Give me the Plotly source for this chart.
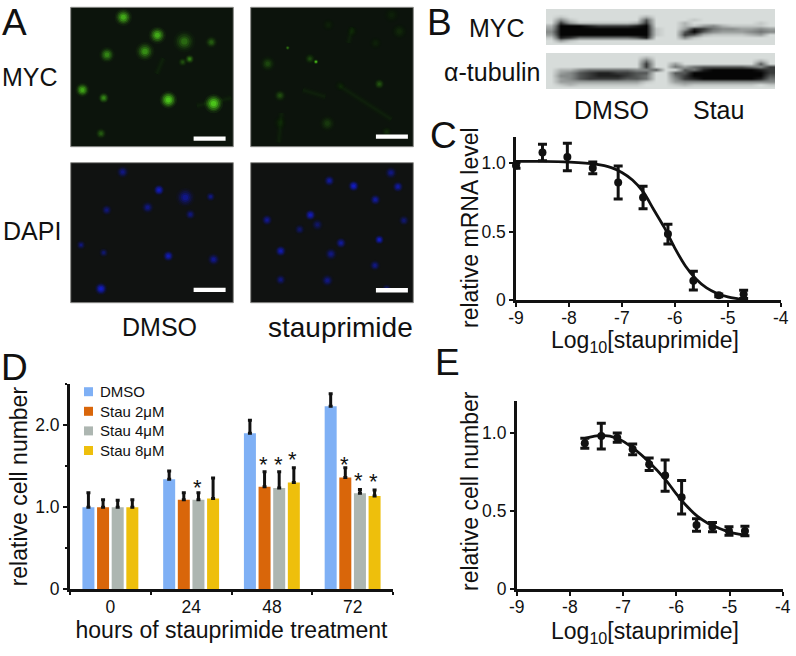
import plotly.graph_objects as go

W, H = 796, 656
FONT = "Liberation Sans"

# panel A: cell positions inside each 163x140 image, size and brightness
myc_dmso_x = [52.7, 86.7, 113.7, 140.7, 36.3, 74.3, 119, 112, 11.7, 33, 97.7, 143, 30.3]
myc_dmso_y = [10, 28, 34.3, 35, 47.7, 44.3, 52, 55, 83, 91, 93, 96.7, 126.7]
myc_dmso_s = [11, 11, 14, 8, 10, 12, 6, 6, 9, 7, 11, 12, 7]
myc_dmso_b = [0.75, 0.75, 0.35, 0.28, 0.5, 0.55, 0.45, 0.22, 0.7, 0.5, 1.0, 1.0, 0.28]
myc_dmso_fibre_x = [92.7, 86, None, 126, 161]
myc_dmso_fibre_y = [51, 67, None, 99, 91]

myc_stau_x = [17, 59.3, 65.3, 37, 29.3, 128.7, 76.7, 77.7, 101.7, 125, 148.7, 141, 89.3, 29.3, 136]
myc_stau_y = [56.7, 51.7, 54.7, 40.7, 88.7, 77, 116.7, 17.7, 24.3, 36, 24.3, 7.7, 78.7, 116, 125]
myc_stau_s = [10, 7, 3, 3, 8, 7, 11, 9, 8, 9, 11, 11, 8, 10, 7]
myc_stau_b = [0.2, 0.2, 1.0, 0.45, 0.22, 0.25, 0.14, 0.05, 0.05, 0.05, 0.08, 0.05, 0.05, 0.05, 0.09]
myc_stau_fibre_x = [101.7, 97.7, None, 89, 141, None, 31, 28, None, 75, 52]
myc_stau_fibre_y = [20, 36, None, 79, 112.7, None, 106, 136, None, 90, 83]

dapi_dmso_x = [52, 88.3, 114.7, 140, 36, 77, 119.7, 10.3, 33, 97.7, 143, 30.3]
dapi_dmso_y = [9.3, 27.3, 34.7, 34, 47.3, 44.7, 51.7, 82.3, 90, 93.3, 96.7, 126]
dapi_dmso_s = [8, 7, 12, 6, 7, 8, 7, 6, 6, 7, 8, 8]
dapi_dmso_b = [0.5, 0.95, 0.55, 0.5, 0.45, 0.5, 0.45, 0.45, 0.4, 0.85, 0.55, 1.0]

dapi_stau_x = [78.7, 103, 140.3, 147.3, 124.7, 153.3, 16.3, 59.7, 49, 66.7, 90.3, 128.7, 30, 80.3, 124.3, 30, 76.7, 136]
dapi_stau_y = [18, 23.3, 10, 24, 37, 57.7, 57.3, 52.3, 66.7, 62, 80.3, 77, 88.3, 91.3, 102.7, 117, 117.7, 126]
dapi_stau_s = [7, 7, 8, 7, 7, 7, 7, 7, 7, 8, 7, 6, 7, 8, 7, 7, 8, 6]
dapi_stau_b = [0.65, 1.0, 0.5, 0.7, 0.65, 0.4, 0.6, 0.9, 0.35, 0.35, 0.65, 1.0, 0.8, 0.5, 0.5, 0.45, 0.5, 0.4]

# panel B: blot darkness on a coarse grid, 0 = membrane, 9 = black
blot_myc = [
    "000000000000000000000000",
    "000000000000000000000000",
    "010000000020000000000000",
    "041000000060000100000000",
    "073111111270002000000010",
    "299987777890002134211110",
    "399999999991003875443343",
    "499999999991006964333454",
    "399999999991007621111230",
    "187555555680004100000000",
    "031000000000000000000000",
    "000000000000000000000000",
]
blot_tubulin = [
    "000000000000000000000000",
    "000000000020000000000000",
    "000000000050000000000020",
    "000000000070030000000060",
    "000000000070053566666547",
    "022455555446006589999987",
    "034678877660066999999997",
    "044678887650057999999996",
    "034677776650047899999985",
    "033333333310034444444444",
    "012111111100012111111101",
    "000000000000000000000000",
]

# panel C
mrna_x = [-9, -8.5, -8.03, -7.55, -7.07, -6.6, -6.13, -5.65, -5.17, -4.7]
mrna_y = [0.98, 1.075, 1.043, 0.963, 0.857, 0.748, 0.482, 0.143, 0.036, 0.044]
mrna_err = [0.02, 0.06, 0.1, 0.043, 0.12, 0.082, 0.072, 0.068, 0.01, 0.03]
mrna_fit_x = [-9, -8.5, -8, -7.5, -7.2, -7, -6.8, -6.6, -6.4, -6.2, -6, -5.8, -5.6, -5.4, -5.2, -5, -4.8, -4.7]
mrna_fit_y = [1.01, 1.01, 1.005, 0.99, 0.965, 0.93, 0.875, 0.79, 0.66, 0.53, 0.38, 0.25, 0.155, 0.09, 0.05, 0.025, 0.01, 0.003]

# panel D
hours = ["0", "24", "48", "72"]
series_names = ["DMSO", "Stau 2μM", "Stau 4μM", "Stau 8μM"]
series_colors = ["#7fb0f5", "#d9660a", "#adb6b1", "#eebf0c"]
dmso_vals = [1.0, 1.34, 1.90, 2.23]
stau2_vals = [1.0, 1.09, 1.25, 1.36]
stau4_vals = [1.0, 1.09, 1.235, 1.17]
stau8_vals = [1.0, 1.105, 1.30, 1.135]
dmso_err = [0.175, 0.10, 0.16, 0.15]
stau2_err = [0.09, 0.085, 0.18, 0.12]
stau4_err = [0.085, 0.085, 0.195, 0.045]
stau8_err = [0.09, 0.25, 0.18, 0.075]
star_group = [1, 2, 2, 2, 3, 3, 3]
star_series = [2, 1, 2, 3, 1, 2, 3]
star_y = [1.24, 1.52, 1.52, 1.58, 1.52, 1.32, 1.31]

# panel E
cells_x = [-7.72, -7.41, -7.11, -6.82, -6.51, -6.21, -5.9, -5.62, -5.32, -5.01, -4.71]
cells_y = [0.934, 0.98, 0.97, 0.895, 0.80, 0.727, 0.588, 0.41, 0.397, 0.372, 0.372]
cells_err = [0.032, 0.083, 0.03, 0.034, 0.04, 0.1, 0.107, 0.04, 0.03, 0.027, 0.03]
cells_fit_x = [-7.72, -7.4, -7.1, -6.8, -6.5, -6.2, -6, -5.8, -5.6, -5.4, -5.2, -5, -4.8, -4.65]
cells_fit_y = [0.965, 0.985, 0.965, 0.90, 0.81, 0.70, 0.61, 0.53, 0.465, 0.42, 0.39, 0.365, 0.35, 0.345]


def dom_x(a, b):
    return [a / W, b / W]


def dom_y(a, b):
    return [1 - b / H, 1 - a / H]


fig = go.Figure()
layout_axes = {}
shapes = []
notes = []


def label(text, x, y, size, anchor="center", angle=0):
    notes.append(dict(text=text, x=x / W, y=1 - y / H, xref="paper", yref="paper", showarrow=False,
                      font=dict(size=size, color="#111111"), xanchor=anchor, yanchor="middle", textangle=angle))


def hidden_axes(n, box, xr, yr):
    layout_axes[f"xaxis{n}"] = dict(domain=dom_x(box[0], box[1]), range=xr, visible=False, anchor=f"y{n}")
    layout_axes[f"yaxis{n}"] = dict(domain=dom_y(box[2], box[3]), range=yr, visible=False, anchor=f"x{n}")


def add_image(n, box, bg, rgb, xs, ys, sizes, levels, bar_y, fibres=None):
    hidden_axes(n, box, [0, 162.7], [140, 0])
    shapes.append(dict(type="rect", xref=f"x{n} domain", yref=f"y{n} domain", x0=0, x1=1, y0=0, y1=1,
                       fillcolor=bg, line=dict(color="#8a8a88", width=1), layer="below"))
    if fibres:
        for width, alpha in [(8, 0.012), (5, 0.018), (2.5, 0.022)]:
            fig.add_trace(go.Scatter(x=fibres[0], y=fibres[1], mode="lines", xaxis=f"x{n}", yaxis=f"y{n}", showlegend=False,
                                     hoverinfo="skip", line=dict(color=f"rgba({rgb},{alpha})", width=width)))
    # stacked translucent circles stand in for the blur of the micrograph
    for grow, alpha in [(1.6, 0.1), (1.3, 0.2), (1.05, 0.35), (0.75, 0.55), (0.45, 0.7)]:
        fig.add_trace(go.Scatter(
            x=xs, y=ys, mode="markers", xaxis=f"x{n}", yaxis=f"y{n}", showlegend=False, hoverinfo="skip",
            marker=dict(size=[s * grow for s in sizes],
                        color=[f"rgba({rgb},{alpha * b:.3f})" for b in levels], line_width=0),
        ))
    shapes.append(dict(type="rect", xref=f"x{n}", yref=f"y{n}", x0=bar_y[0], x1=bar_y[0] + 32, y0=bar_y[1],
                       y1=bar_y[1] + 4.4, fillcolor="white", line_width=0))


GREEN = "90,235,30"
BLUE = "20,30,230"
add_image(2, (70.7, 233.3, 7.3, 146.7), "#0c140c", GREEN, myc_dmso_x, myc_dmso_y, myc_dmso_s, myc_dmso_b, (123, 129.7),
          (myc_dmso_fibre_x, myc_dmso_fibre_y))
add_image(3, (250.7, 413.3, 7.3, 146.7), "#0c130c", GREEN, myc_stau_x, myc_stau_y, myc_stau_s, myc_stau_b, (125.3, 127.7),
          (myc_stau_fibre_x, myc_stau_fibre_y))
add_image(4, (70.7, 233.3, 162.7, 302.7), "#101211", BLUE, dapi_dmso_x, dapi_dmso_y, dapi_dmso_s, dapi_dmso_b, (123, 125))
add_image(5, (250.7, 413.3, 162.7, 302.7), "#101211", BLUE, dapi_stau_x, dapi_stau_y, dapi_stau_s, dapi_stau_b, (125.3, 125.3))


def add_blot(n, box, rows):
    hidden_axes(n, box, [-0.5, 23.5], [11.5, -0.5])
    fig.add_trace(go.Heatmap(
        z=[[int(c) for c in row] for row in rows], xaxis=f"x{n}", yaxis=f"y{n}", zmin=0, zmax=9,
        zsmooth="best", showscale=False, hoverinfo="skip",
        colorscale=[[0, "#d7dcda"], [0.5, "#7b7f7e"], [1, "#050505"]],
    ))


add_blot(6, (546, 775, 9, 45), blot_myc)
add_blot(7, (546, 775, 53, 89), blot_tubulin)


def curve_axes(n, box, ymax):
    axis_line = dict(showline=True, linecolor="#111111", linewidth=2.5, ticks="outside", tickcolor="#111111",
                     tickwidth=2, ticklen=4, showgrid=False, zeroline=False, automargin=False,
                     tickfont=dict(size=17.5, color="#111111"))
    layout_axes[f"xaxis{n}"] = dict(
        axis_line, domain=dom_x(box[0], box[1]), range=[-9, -4], anchor=f"y{n}", ticklabelstandoff=-4,
        tickvals=[-9, -8, -7, -6, -5, -4], ticktext=["-9", "-8", "-7", "-6", "-5", "-4"], tickangle=0,
    )
    layout_axes[f"yaxis{n}"] = dict(
        axis_line, domain=dom_y(box[2], box[3]), range=[0, ymax], anchor=f"x{n}",
        tickvals=[0, 0.5, 1], ticktext=["0", "0.5", "1.0"],
    )


def add_curve(n, x, y, err, fit_x, fit_y):
    fig.add_trace(go.Scatter(x=fit_x, y=fit_y, mode="lines", xaxis=f"x{n}", yaxis=f"y{n}", showlegend=False,
                             line=dict(color="#111111", width=2.8, shape="spline"), cliponaxis=False))
    fig.add_trace(go.Scatter(x=x, y=y, mode="markers", xaxis=f"x{n}", yaxis=f"y{n}", showlegend=False,
                             cliponaxis=False, marker=dict(size=8, color="#111111"),
                             error_y=dict(type="data", array=err, color="#111111", thickness=3, width=4.5)))


curve_axes(8, (516, 780.7, 136.7, 300.3), 1.19)
add_curve(8, mrna_x, mrna_y, mrna_err, mrna_fit_x, mrna_fit_y)
curve_axes(10, (516.7, 782.7, 400.7, 589), 1.207)
add_curve(10, cells_x, cells_y, cells_err, cells_fit_x, cells_fit_y)
label("relative mRNA level", 470, 227, 23, angle=-90)
label("relative cell number", 470, 491, 23, angle=-90)
label("Log<sub>10</sub>[stauprimide]", 645, 341, 23)
label("Log<sub>10</sub>[stauprimide]", 645, 632, 23)

# panel D
bar_vals = [dmso_vals, stau2_vals, stau4_vals, stau8_vals]
bar_errs = [dmso_err, stau2_err, stau4_err, stau8_err]
for name, color, vals, err in zip(series_names, series_colors, bar_vals, bar_errs):
    fig.add_trace(go.Bar(
        x=hours, y=vals, name=name, marker=dict(color=color, line_width=0), xaxis="x9", yaxis="y9", showlegend=False,
        error_y=dict(type="data", symmetric=False, array=err, arrayminus=[0, 0, 0, 0], color="#111111", thickness=3, width=2),
    ))
layout_axes["xaxis9"] = dict(
    domain=dom_x(70, 393), type="category", anchor="y9", range=[-0.5, 3.5], tickson="boundaries", automargin=False,
    showline=True, linecolor="#111111", linewidth=3, ticks="outside", tickcolor="#111111", tickwidth=2, ticklen=3,
    showgrid=False, tickfont=dict(size=17.5, color="#111111"),
    title=dict(text="hours of stauprimide treatment", font=dict(size=23, color="#111111"), standoff=2),
)
layout_axes["yaxis9"] = dict(
    domain=dom_y(384, 589.3), range=[0, 2.5], anchor="x9", automargin=False,
    showline=True, linecolor="#111111", linewidth=3, ticks="outside", tickcolor="#111111", tickwidth=2, ticklen=4,
    tickvals=[0, 1, 2], ticktext=["0", "1.0", "2.0"], showgrid=False, zeroline=False,
    tickfont=dict(size=17.5, color="#111111"),
    minor=dict(tickvals=[0.5, 1.5, 2.5], ticks="outside", ticklen=2, tickcolor="#111111", tickwidth=2),
    title=dict(text="relative cell number", font=dict(size=23, color="#111111"), standoff=2),
)
for g, s, sy in zip(star_group, star_series, star_y):
    notes.append(dict(text="*", x=g, y=sy, xref="x9", yref="y9", xshift=(s - 1.5) * 14.7 - 1, showarrow=False,
                      font=dict(size=22, color="#111111"), yanchor="middle"))

# hand-placed key, the native legend cannot draw small square swatches
for i, (name, color) in enumerate(zip(series_names, series_colors)):
    row_y = 391.7 + i * 19.6
    shapes.append(dict(type="rect", xref="paper", yref="paper", x0=84 / W, x1=93 / W, y0=1 - (row_y + 4.5) / H,
                       y1=1 - (row_y - 4.5) / H, fillcolor=color, line_width=0))
    label(name, 97.5, row_y, 15, "left")

for text, x, y, size in [("A", 14, 22, 37), ("B", 439, 23, 37), ("C", 443, 136, 37), ("D", 15, 367, 37), ("E", 447, 362, 37)]:
    label(text, x, y, size)
label("MYC", 30, 77, 25)
label("DAPI", 32, 231, 25)
label("DMSO", 159, 327, 25)
label("stauprimide", 340, 327, 28)
label("MYC", 497, 28, 25)
label("α-tubulin", 542, 72, 25, "right")
label("DMSO", 611, 110, 25)
label("Stau", 718, 110, 25)

fig.update_layout(
    width=W, height=H, margin=dict(l=0, r=0, t=0, b=0, autoexpand=False), paper_bgcolor="white",
    plot_bgcolor="rgba(0,0,0,0)",
    font=dict(family=FONT, color="#111111"), barmode="group", bargap=0.275, bargroupgap=0.18,
    shapes=shapes, annotations=notes, **layout_axes,
)

fig.write_html("out.html", config=dict(displayModeBar=False), post_script="document.body.style.margin='0';")
